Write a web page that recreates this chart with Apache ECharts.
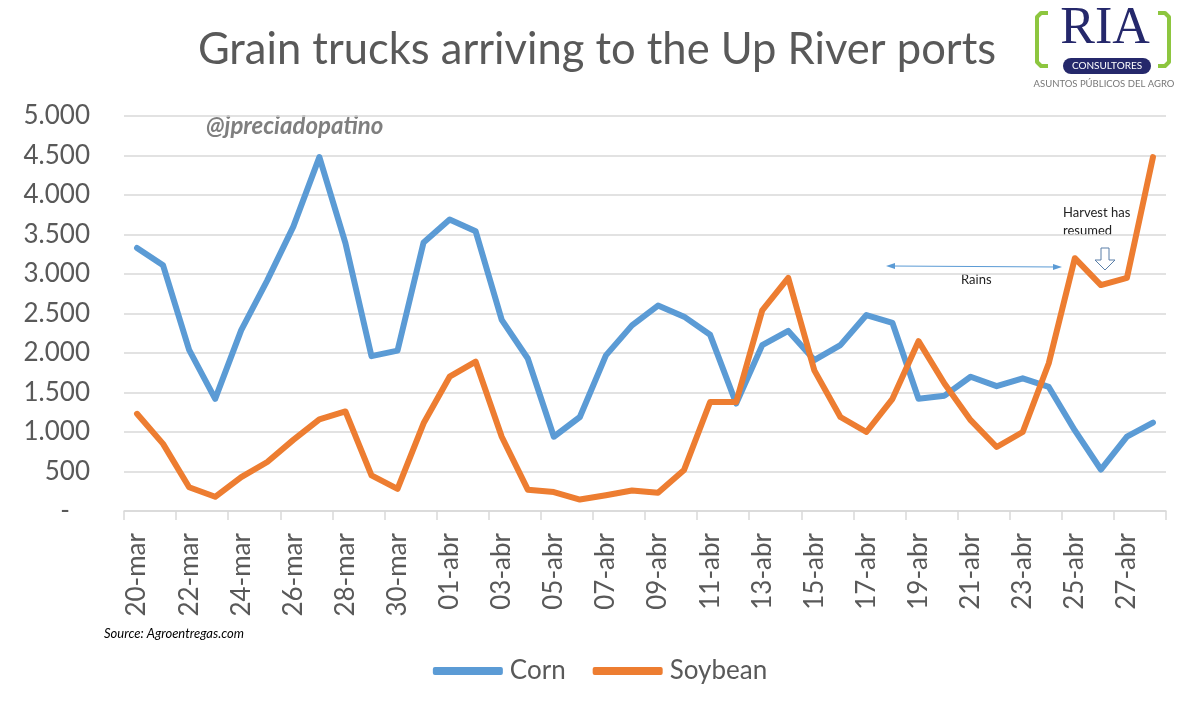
<!DOCTYPE html>
<html>
<head>
<meta charset="utf-8">
<title>Grain trucks arriving to the Up River ports</title>
<script src="https://cdn.jsdelivr.net/npm/echarts@6/dist/echarts.min.js"></script>
<style>
  html, body { margin: 0; padding: 0; background: #fff; }
  #main { width: 1200px; height: 701px; }
</style>
</head>
<body>
<div id="main"></div>
<script>
// fechas (una por día)
const days = [
  '20-mar', '21-mar', '22-mar', '23-mar', '24-mar', '25-mar', '26-mar', '27-mar', '28-mar', '29-mar',
  '30-mar', '31-mar', '01-abr', '02-abr', '03-abr', '04-abr', '05-abr', '06-abr', '07-abr', '08-abr',
  '09-abr', '10-abr', '11-abr', '12-abr', '13-abr', '14-abr', '15-abr', '16-abr', '17-abr', '18-abr',
  '19-abr', '20-abr', '21-abr', '22-abr', '23-abr', '24-abr', '25-abr', '26-abr', '27-abr', '28-abr'
];
const corn = [
  3330, 3110, 2040, 1420, 2290, 2920, 3600, 4480, 3390, 1960,
  2030, 3400, 3690, 3540, 2420, 1930, 940, 1190, 1970, 2350,
  2600, 2460, 2230, 1360, 2100, 2280, 1910, 2100, 2480, 2380,
  1420, 1460, 1700, 1580, 1680, 1570, 1020, 525, 940, 1120
];
const soybean = [
  1230, 850, 300, 180, 430, 620, 900, 1160, 1260, 450,
  280, 1110, 1700, 1890, 940, 270, 240, 145, 200, 260,
  230, 520, 1380, 1380, 2540, 2950, 1780, 1190, 1000, 1420,
  2150, 1610, 1150, 810, 1000, 1870, 3200, 2860, 2950, 4480
];
const yTicks = { min: 0, max: 5000, step: 500 };

const textColor = '#595959';
const font = 'Lato, "Open Sans", sans-serif';

const myChart = echarts.init(document.getElementById('main'));

function fmtThousands(v) {
  if (v === 0) return '-   ';
  return String(v).replace(/\B(?=(\d{3})+(?!\d))/g, '.');
}

const option = {
  backgroundColor: '#fff',
  animation: false,
  title: {
    text: 'Grain trucks arriving to the Up River ports',
    left: 592,
    top: 23,
    textAlign: 'center',
    textStyle: {
      fontFamily: font,
      fontSize: 43.5,
      fontWeight: 'normal',
      color: textColor
    }
  },
  grid: {
    left: 124,
    right: 34,
    top: 116,
    bottom: 190
  },
  legend: {
    bottom: 12,
    left: 'center',
    itemWidth: 70,
    itemHeight: 8,
    itemGap: 27,
    icon: 'roundRect',
    textStyle: { fontFamily: font, fontSize: 26, color: textColor, padding: [0, 0, 0, 2] },
    data: ['Corn', 'Soybean']
  },
  xAxis: {
    type: 'category',
    data: days,
    boundaryGap: true,
    axisLine: { lineStyle: { color: '#d9d9d9', width: 1.5 } },
    axisTick: { show: true, interval: 1, length: 9, lineStyle: { color: '#d9d9d9', width: 1.5 } },
    axisLabel: {
      interval: 1,
      rotate: 90,
      margin: 22,
      fontFamily: font,
      fontSize: 26,
      color: textColor
    }
  },
  yAxis: {
    type: 'value',
    min: yTicks.min,
    max: yTicks.max,
    interval: yTicks.step,
    axisLine: { show: false },
    axisTick: { show: false },
    splitLine: { lineStyle: { color: '#d9d9d9', width: 1.5 } },
    axisLabel: {
      margin: 34,
      fontFamily: font,
      fontSize: 26,
      color: textColor,
      formatter: fmtThousands
    }
  },
  series: [
    {
      name: 'Corn',
      type: 'line',
      data: corn,
      symbol: 'none',
      itemStyle: { color: '#5b9bd5' },
      lineStyle: { color: '#5b9bd5', width: 6, cap: 'round', join: 'round' }
    },
    {
      name: 'Soybean',
      type: 'line',
      data: soybean,
      symbol: 'none',
      itemStyle: { color: '#ed7d31' },
      lineStyle: { color: '#ed7d31', width: 6, cap: 'round', join: 'round' }
    }
  ],
  graphic: [
    // marca de agua
    {
      type: 'text', left: 206, top: 114,
      style: { text: '@jpreciadopatino', font: 'italic bold 24px ' + font, fill: '#7f7f7f' }
    },
    // fuente
    {
      type: 'text', left: 104, top: 627,
      style: { text: 'Source: Agroentregas.com', font: 'italic 13px ' + font, fill: '#000' }
    },
    // anotación lluvias
    {
      type: 'line',
      shape: { x1: 890, y1: 266, x2: 1058, y2: 267 },
      style: { stroke: '#5b9bd5', lineWidth: 1 }
    },
    {
      type: 'polygon',
      shape: { points: [[886, 266], [895, 263], [895, 269]] },
      style: { fill: '#5b9bd5' }
    },
    {
      type: 'polygon',
      shape: { points: [[1062, 267], [1053, 264], [1053, 270]] },
      style: { fill: '#5b9bd5' }
    },
    {
      type: 'text', left: 961, top: 273,
      style: { text: 'Rains', font: '13px ' + font, fill: '#222' }
    },
    // cosecha
    {
      type: 'text', left: 1063, top: 204,
      style: { text: 'Harvest has\nresumed', font: '13px ' + font, fill: '#222', lineHeight: 18 }
    },
    {
      type: 'polygon',
      shape: { points: [[1101, 248], [1109, 248], [1109, 260], [1115, 260], [1105, 270], [1095, 260], [1101, 260]] },
      style: { fill: '#fff', stroke: '#5a7fa8', lineWidth: 1 }
    },
    // logo RIA
    {
      type: 'polyline',
      shape: { points: [[1048, 13], [1041, 13], [1037, 17], [1037, 62], [1041, 66], [1048, 66]] },
      style: { fill: 'none', stroke: '#8dc63f', lineWidth: 4, lineJoin: 'round' }
    },
    {
      type: 'polyline',
      shape: { points: [[1158, 13], [1165, 13], [1169, 17], [1169, 62], [1165, 66], [1158, 66]] },
      style: { fill: 'none', stroke: '#8dc63f', lineWidth: 4, lineJoin: 'round' }
    },
    {
      type: 'text', x: 1105, y: 29,
      style: { text: 'RIA', font: '52px "Liberation Serif", serif', fill: '#25286b', align: 'center', verticalAlign: 'middle' }
    },
    {
      type: 'rect',
      shape: { x: 1063, y: 58, width: 88, height: 16, r: 8 },
      style: { fill: '#25286b' }
    },
    {
      type: 'text', x: 1107, y: 66,
      style: { text: 'CONSULTORES', font: '10px ' + font, fill: '#fff', align: 'center', verticalAlign: 'middle' }
    },
    {
      type: 'text', x: 1104, y: 84,
      style: { text: 'ASUNTOS PÚBLICOS DEL AGRO', font: '9.5px ' + font, fill: '#777', align: 'center', verticalAlign: 'middle' }
    }
  ]
};

myChart.setOption(option);
window.addEventListener('resize', function () {
  myChart.resize();
});
</script>
</body>
</html>
